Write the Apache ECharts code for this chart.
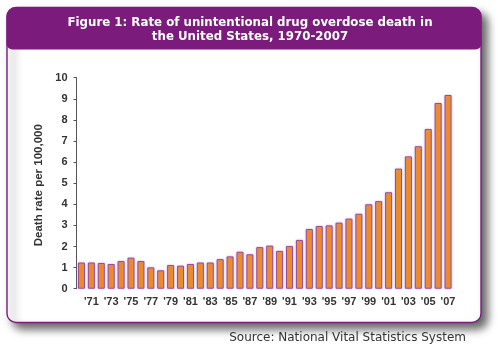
<!DOCTYPE html>
<html>
<head>
<meta charset="utf-8">
<script src="https://cdn.jsdelivr.net/npm/echarts@6/dist/echarts.min.js"></script>
<style>
  html, body { margin: 0; padding: 0; background: #ffffff; }
  #chart { width: 500px; height: 347px; }
</style>
</head>
<body>
<div id="chart"></div>
<script>
// Years shown on the category axis
const years = [
  1970, 1971, 1972, 1973, 1974, 1975, 1976, 1977, 1978, 1979,
  1980, 1981, 1982, 1983, 1984, 1985, 1986, 1987, 1988, 1989,
  1990, 1991, 1992, 1993, 1994, 1995, 1996, 1997, 1998, 1999,
  2000, 2001, 2002, 2003, 2004, 2005, 2006, 2007
];

// Unintentional drug overdose deaths per 100,000 population
const deathRate = [
  1.24, 1.24, 1.22, 1.17, 1.31, 1.47, 1.31, 1.01, 0.87, 1.12,
  1.09, 1.17, 1.24, 1.24, 1.40, 1.53, 1.75, 1.63, 1.97, 2.04,
  1.79, 2.02, 2.31, 2.83, 2.97, 3.00, 3.13, 3.32, 3.55, 4.00,
  4.15, 4.57, 5.69, 6.27, 6.75, 7.57, 8.80, 9.18
];

const yTicks = [0, 1, 2, 3, 4, 5, 6, 7, 8, 9, 10];

const titleLines = [
  'Figure 1: Rate of unintentional drug overdose death in',
  'the United States, 1970-2007'
];
const yAxisTitle = 'Death rate per 100,000';
const sourceNote = 'Source: National Vital Statistics System';

const purple = '#7b1c7d';

const chart = echarts.init(document.getElementById('chart'), null, { renderer: 'canvas' });

chart.setOption({
  animation: false,
  backgroundColor: '#ffffff',
  graphic: [
    // card with drop shadow
    {
      type: 'rect', z: -20,
      shape: { x: 7, y: 7.5, width: 474, height: 315, r: 9 },
      style: {
        fill: '#ffffff', stroke: purple, lineWidth: 1.4,
        shadowBlur: 8, shadowOffsetX: 6, shadowOffsetY: 6,
        shadowColor: 'rgba(0,0,0,0.6)'
      }
    },
    // title banner
    {
      type: 'rect', z: -10,
      shape: { x: 6.5, y: 7, width: 475, height: 42.5, r: [9, 9, 6, 6] },
      style: { fill: purple }
    },
    {
      type: 'text', z: -5,
      left: 'center', top: 15.5,
      style: {
        text: titleLines.join('\n'),
        fill: '#ffffff',
        font: 'bold 11.8px "DejaVu Sans", Verdana, sans-serif',
        lineHeight: 14.5,
        textAlign: 'center'
      }
    },
    {
      type: 'text', z: -5,
      right: 34, top: 332,
      style: {
        text: sourceNote,
        fill: '#333333',
        font: '12px "DejaVu Sans", Verdana, sans-serif'
      }
    }
  ],
  grid: { left: 76.5, right: 47, top: 77.7, bottom: 58.3, containLabel: false },
  xAxis: {
    type: 'category',
    data: years,
    boundaryGap: true,
    axisLine: { show: false },
    axisTick: { show: false },
    axisLabel: {
      interval: (i) => i % 2 === 1,
      formatter: (v) => "'" + String(v).slice(2),
      color: '#333333',
      fontFamily: '"Liberation Sans", Arial, sans-serif',
      fontWeight: 'bold',
      fontSize: 11,
      margin: 8
    }
  },
  yAxis: {
    type: 'value',
    min: yTicks[0],
    max: yTicks[yTicks.length - 1],
    interval: 1,
    name: yAxisTitle,
    nameLocation: 'middle',
    nameGap: 29,
    nameTextStyle: {
      color: '#333333',
      fontFamily: '"Liberation Sans", Arial, sans-serif',
      fontWeight: 'bold',
      fontSize: 11.5,
      padding: [0, 4, 0, 0]
    },
    axisLine: { show: true, lineStyle: { color: '#555555', width: 1 } },
    axisTick: { show: true, length: 3, lineStyle: { color: '#555555' } },
    splitLine: { show: false },
    axisLabel: {
      color: '#333333',
      fontFamily: '"Liberation Sans", Arial, sans-serif',
      fontWeight: 'bold',
      fontSize: 11,
      margin: 9
    }
  },
  series: [{
    type: 'bar',
    data: deathRate,
    barWidth: 7,
    itemStyle: {
      color: '#ef8c1f',
      borderColor: '#9c4a96',
      borderWidth: 1,
      shadowColor: 'rgba(190,150,215,0.8)',
      shadowBlur: 2
    }
  }]
});
</script>
</body>
</html>
